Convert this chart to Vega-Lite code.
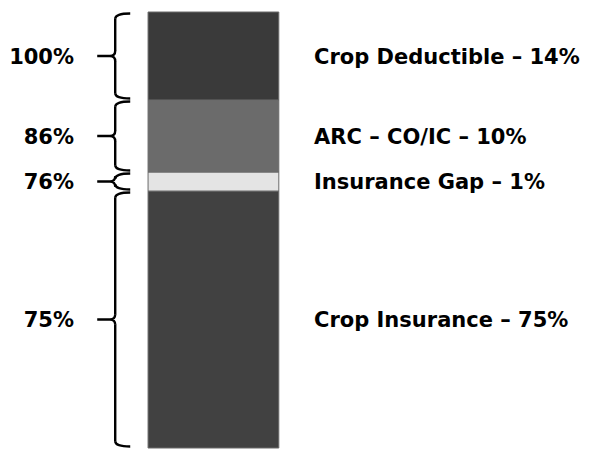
{
  "$schema": "https://vega.github.io/schema/vega-lite/v6.json",
  "width": 597,
  "height": 449,
  "padding": 0,
  "autosize": {"type": "none"},
  "background": "white",
  "config": {"view": {"stroke": null}, "axis": {"disable": true}, "font": "DejaVu Sans"},
  "data": {
    "values": [
      {"segment": "Crop Insurance", "share": 75, "start": 0, "end": 75, "text": "Crop Insurance – 75%", "level": "75%"},
      {"segment": "Insurance Gap", "share": 1, "start": 75, "end": 76, "text": "Insurance Gap – 1%", "level": "76%"},
      {"segment": "ARC – CO/IC", "share": 10, "start": 76, "end": 86, "text": "ARC – CO/IC – 10%", "level": "86%"},
      {"segment": "Crop Deductible", "share": 14, "start": 86, "end": 100, "text": "Crop Deductible – 14%", "level": "100%"}
    ]
  },
  "transform": [{"calculate": "(datum.start + datum.end) / 2", "as": "mid"}],
  "layer": [
    {
      "mark": {"type": "bar", "stroke": "#6a6a6a", "strokeWidth": 1},
      "encoding": {
        "x": {"datum": 24.8, "type": "quantitative", "scale": {"domain": [0, 100], "nice": false, "zero": false}, "axis": null},
        "x2": {"datum": 46.7},
        "y": {"field": "start", "type": "quantitative", "scale": {"domain": [0, 75, 76, 86, 100], "range": [448, 191, 172, 100, 12], "nice": false, "zero": false}, "axis": null},
        "y2": {"field": "end"},
        "color": {"field": "segment", "type": "nominal", "scale": {"domain": ["Crop Insurance", "Insurance Gap", "ARC – CO/IC", "Crop Deductible"], "range": ["#414141", "#e4e4e4", "#6b6b6b", "#3a3a3a"]}, "legend": null}
      }
    },
    {
      "mark": {"type": "rule", "stroke": "black", "strokeWidth": 2.4, "yOffset": -5, "y2Offset": 6.5},
      "encoding": {
        "x": {"datum": 19.3, "type": "quantitative"},
        "y": {"field": "mid", "type": "quantitative"},
        "y2": {"field": "end"}
      }
    },
    {
      "mark": {"type": "rule", "stroke": "black", "strokeWidth": 2.4, "yOffset": -6.5, "y2Offset": 5},
      "encoding": {
        "x": {"datum": 19.3, "type": "quantitative"},
        "y": {"field": "start", "type": "quantitative"},
        "y2": {"field": "mid"}
      }
    },
    {
      "mark": {"type": "point", "shape": "M 0 0.35 Q 0 0 1 0", "filled": false, "stroke": "black", "strokeWidth": 2.4, "size": 900, "opacity": 1, "yOffset": 1.5},
      "encoding": {
        "x": {"datum": 19.3, "type": "quantitative"},
        "y": {"field": "end", "type": "quantitative"}
      }
    },
    {
      "mark": {"type": "point", "shape": "M 0 -0.35 Q 0 0 1 0", "filled": false, "stroke": "black", "strokeWidth": 2.4, "size": 900, "opacity": 1, "yOffset": -1.5},
      "encoding": {
        "x": {"datum": 19.3, "type": "quantitative"},
        "y": {"field": "start", "type": "quantitative"}
      }
    },
    {
      "mark": {"type": "point", "shape": "M 0 -0.35 Q 0 0 -0.35 0 L -1.2 0 M 0 0.35 Q 0 0 -0.35 0", "filled": false, "stroke": "black", "strokeWidth": 2.4, "size": 900, "opacity": 1},
      "encoding": {
        "x": {"datum": 19.3, "type": "quantitative"},
        "y": {"field": "mid", "type": "quantitative"}
      }
    },
    {
      "mark": {"type": "text", "align": "right", "baseline": "middle", "fontSize": 21, "fontWeight": "bold", "font": "DejaVu Sans", "color": "black", "yOffset": 1.5},
      "encoding": {
        "x": {"datum": 12.4, "type": "quantitative"},
        "y": {"field": "mid", "type": "quantitative"},
        "text": {"field": "level"}
      }
    },
    {
      "mark": {"type": "text", "align": "left", "baseline": "middle", "fontSize": 21, "fontWeight": "bold", "font": "DejaVu Sans", "color": "black", "yOffset": 1.5},
      "encoding": {
        "x": {"datum": 52.6, "type": "quantitative"},
        "y": {"field": "mid", "type": "quantitative"},
        "text": {"field": "text"}
      }
    }
  ]
}
